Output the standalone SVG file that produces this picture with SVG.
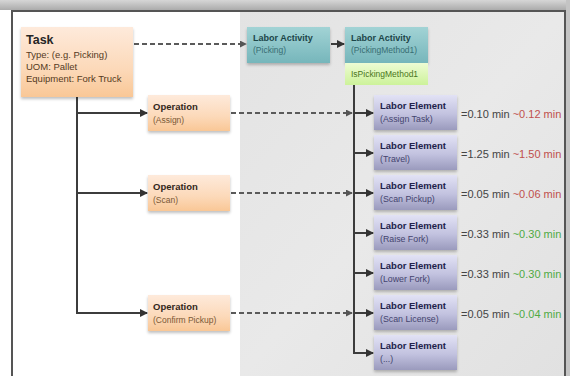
<svg xmlns="http://www.w3.org/2000/svg" width="570" height="376" viewBox="0 0 570 376">
<defs>
  <linearGradient id="gTop" x1="0" y1="0" x2="0" y2="1">
    <stop offset="0" stop-color="#d6d6d6"/>
    <stop offset="1" stop-color="#ababab"/>
  </linearGradient>
  <linearGradient id="gPanel" x1="0" y1="0" x2="1" y2="1">
    <stop offset="0" stop-color="#e3e3e3"/>
    <stop offset="0.5" stop-color="#e9e9e9"/>
    <stop offset="1" stop-color="#e1e1e1"/>
  </linearGradient>
  <linearGradient id="gOrange" x1="0" y1="0" x2="0" y2="1">
    <stop offset="0" stop-color="#feeadb"/>
    <stop offset="0.6" stop-color="#fcd9b9"/>
    <stop offset="1" stop-color="#f9c796"/>
  </linearGradient>
  <linearGradient id="gTeal" x1="0" y1="0" x2="0" y2="1">
    <stop offset="0" stop-color="#a2d3d5"/>
    <stop offset="1" stop-color="#76b6bb"/>
  </linearGradient>
  <linearGradient id="gGreen" x1="0" y1="0" x2="0" y2="1">
    <stop offset="0" stop-color="#eefcd4"/>
    <stop offset="1" stop-color="#cdf29a"/>
  </linearGradient>
  <linearGradient id="gPurple" x1="0" y1="0" x2="0" y2="1">
    <stop offset="0" stop-color="#e2e2f5"/>
    <stop offset="0.55" stop-color="#c2c2df"/>
    <stop offset="1" stop-color="#9a9abd"/>
  </linearGradient>
  <filter id="sh" x="-20%" y="-20%" width="140%" height="150%">
    <feGaussianBlur in="SourceAlpha" stdDeviation="1.5"/>
    <feOffset dx="0" dy="1.5" result="b"/>
    <feComponentTransfer><feFuncA type="linear" slope="0.25"/></feComponentTransfer>
    <feMerge><feMergeNode/><feMergeNode in="SourceGraphic"/></feMerge>
  </filter>
  <marker id="ah" viewBox="0 0 8 8" refX="7" refY="4" markerWidth="4" markerHeight="4" orient="auto" markerUnits="strokeWidth">
    <path d="M0,0 L8,4 L0,8 z" fill="#333"/>
  </marker>
  <marker id="ahd" viewBox="0 0 8 8" refX="7" refY="4" markerWidth="3.5" markerHeight="3.5" orient="auto" markerUnits="strokeWidth">
    <path d="M0,0 L8,4 L0,8 z" fill="#555"/>
  </marker>
</defs>
<style>
  text { font-family: "Liberation Sans", Arial, sans-serif; }
  .solid { stroke: #3c3c3c; stroke-width: 2; fill: none; }
  .dash { stroke: #5a5a5a; stroke-width: 2; fill: none; stroke-dasharray: 5 3; }
  .t-task { font-size: 12.5px; font-weight: bold; fill: #262626; }
  .t-det { font-size: 9.5px; fill: #553a1e; }
  .t-op { font-size: 9.5px; font-weight: bold; fill: #33281c; }
  .t-opsub { font-size: 8.5px; fill: #7a5836; }
  .t-la { font-size: 9px; font-weight: bold; fill: #1c4548; }
  .t-lasub { font-size: 8.5px; fill: #386e73; }
  .t-is { font-size: 8.5px; fill: #4a7620; }
  .t-le { font-size: 9.5px; font-weight: bold; fill: #22224a; }
  .t-lesub { font-size: 8.8px; fill: #44446e; }
  .t-val { font-size: 11px; fill: #444; }
  .red { fill: #c0504d; }
  .grn { fill: #4faa44; }
</style>

<!-- background / frame -->
<rect x="0" y="0" width="570" height="376" fill="#ffffff"/>
<rect x="0" y="0" width="570" height="10" fill="url(#gTop)"/>
<rect x="566" y="0" width="4" height="376" fill="#c4c4c4"/>
<rect x="240" y="11" width="325" height="365" fill="url(#gPanel)"/>
<path d="M12,376 V11 H565 V376" fill="none" stroke="#555" stroke-width="2"/>

<!-- connectors -->
<g id="connectors">
  <line class="dash" x1="134" y1="44" x2="246" y2="44" marker-end="url(#ahd)"/>
  <line class="solid" x1="331" y1="44" x2="344" y2="44" marker-end="url(#ah)"/>
  <line class="solid" x1="77" y1="97" x2="77" y2="314"/>
  <line class="solid" x1="76" y1="113" x2="147" y2="113" marker-end="url(#ah)"/>
  <line class="solid" x1="76" y1="193" x2="147" y2="193" marker-end="url(#ah)"/>
  <line class="solid" x1="76" y1="313" x2="147" y2="313" marker-end="url(#ah)"/>
  <line class="dash" x1="231" y1="113" x2="352" y2="113" marker-end="url(#ahd)"/>
  <line class="dash" x1="231" y1="193" x2="352" y2="193" marker-end="url(#ahd)"/>
  <line class="dash" x1="231" y1="313" x2="352" y2="313" marker-end="url(#ahd)"/>
  <line class="solid" x1="354" y1="85" x2="354" y2="354"/>
  <line class="solid" x1="353" y1="113" x2="373" y2="113" marker-end="url(#ah)"/>
  <line class="solid" x1="353" y1="153" x2="373" y2="153" marker-end="url(#ah)"/>
  <line class="solid" x1="353" y1="193" x2="373" y2="193" marker-end="url(#ah)"/>
  <line class="solid" x1="353" y1="233" x2="373" y2="233" marker-end="url(#ah)"/>
  <line class="solid" x1="353" y1="273" x2="373" y2="273" marker-end="url(#ah)"/>
  <line class="solid" x1="353" y1="313" x2="373" y2="313" marker-end="url(#ah)"/>
  <line class="solid" x1="353" y1="353" x2="373" y2="353" marker-end="url(#ah)"/>
</g>

<!-- Task -->
<g id="task">
  <rect x="21" y="27" width="112" height="70" fill="url(#gOrange)" filter="url(#sh)"/>
  <text class="t-task" x="26" y="44">Task</text>
  <text class="t-det" x="26" y="58">Type: (e.g. Picking)</text>
  <text class="t-det" x="26" y="70">UOM: Pallet</text>
  <text class="t-det" x="26" y="82">Equipment: Fork Truck</text>
</g>

<!-- Operations -->
<g id="op-assign">
  <rect x="148" y="95" width="82" height="36" fill="url(#gOrange)" filter="url(#sh)"/>
  <text class="t-op" x="153" y="110">Operation</text>
  <text class="t-opsub" x="153" y="123">(Assign)</text>
</g>
<g id="op-scan">
  <rect x="148" y="175" width="82" height="36" fill="url(#gOrange)" filter="url(#sh)"/>
  <text class="t-op" x="153" y="190">Operation</text>
  <text class="t-opsub" x="153" y="203">(Scan)</text>
</g>
<g id="op-confirm">
  <rect x="148" y="295" width="82" height="36" fill="url(#gOrange)" filter="url(#sh)"/>
  <text class="t-op" x="153" y="310">Operation</text>
  <text class="t-opsub" x="153" y="323">(Confirm Pickup)</text>
</g>

<!-- Labor Activities -->
<g id="la-picking">
  <rect x="247" y="27" width="83" height="36" fill="url(#gTeal)" filter="url(#sh)"/>
  <text class="t-la" x="253" y="41">Labor Activity</text>
  <text class="t-lasub" x="253" y="53">(Picking)</text>
</g>
<g id="la-pm1">
  <rect x="345" y="27" width="83" height="36" fill="url(#gTeal)" filter="url(#sh)"/>
  <rect x="345" y="63" width="83" height="22" fill="url(#gGreen)"/>
  <text class="t-la" x="351" y="41">Labor Activity</text>
  <text class="t-lasub" x="351" y="53">(PickingMethod1)</text>
  <text class="t-is" x="351" y="77">IsPickingMethod1</text>
</g>

<!-- Labor Elements -->
<g id="le-1">
  <rect x="374" y="95" width="83" height="35" fill="url(#gPurple)" filter="url(#sh)"/>
  <text class="t-le" x="380" y="109">Labor Element</text>
  <text class="t-lesub" x="380" y="122">(Assign Task)</text>
  <text class="t-val" x="461" y="118">=0.10 min <tspan class="red">~0.12 min</tspan></text>
</g>
<g id="le-2">
  <rect x="374" y="135" width="83" height="35" fill="url(#gPurple)" filter="url(#sh)"/>
  <text class="t-le" x="380" y="149">Labor Element</text>
  <text class="t-lesub" x="380" y="162">(Travel)</text>
  <text class="t-val" x="461" y="158">=1.25 min <tspan class="red">~1.50 min</tspan></text>
</g>
<g id="le-3">
  <rect x="374" y="175" width="83" height="35" fill="url(#gPurple)" filter="url(#sh)"/>
  <text class="t-le" x="380" y="189">Labor Element</text>
  <text class="t-lesub" x="380" y="202">(Scan Pickup)</text>
  <text class="t-val" x="461" y="198">=0.05 min <tspan class="red">~0.06 min</tspan></text>
</g>
<g id="le-4">
  <rect x="374" y="215" width="83" height="35" fill="url(#gPurple)" filter="url(#sh)"/>
  <text class="t-le" x="380" y="229">Labor Element</text>
  <text class="t-lesub" x="380" y="242">(Raise Fork)</text>
  <text class="t-val" x="461" y="238">=0.33 min <tspan class="grn">~0.30 min</tspan></text>
</g>
<g id="le-5">
  <rect x="374" y="255" width="83" height="35" fill="url(#gPurple)" filter="url(#sh)"/>
  <text class="t-le" x="380" y="269">Labor Element</text>
  <text class="t-lesub" x="380" y="282">(Lower Fork)</text>
  <text class="t-val" x="461" y="278">=0.33 min <tspan class="grn">~0.30 min</tspan></text>
</g>
<g id="le-6">
  <rect x="374" y="295" width="83" height="35" fill="url(#gPurple)" filter="url(#sh)"/>
  <text class="t-le" x="380" y="309">Labor Element</text>
  <text class="t-lesub" x="380" y="322">(Scan License)</text>
  <text class="t-val" x="461" y="318">=0.05 min <tspan class="grn">~0.04 min</tspan></text>
</g>
<g id="le-7">
  <rect x="374" y="335" width="83" height="35" fill="url(#gPurple)" filter="url(#sh)"/>
  <text class="t-le" x="380" y="349">Labor Element</text>
  <text class="t-lesub" x="380" y="362">(...)</text>
</g>
</svg>
